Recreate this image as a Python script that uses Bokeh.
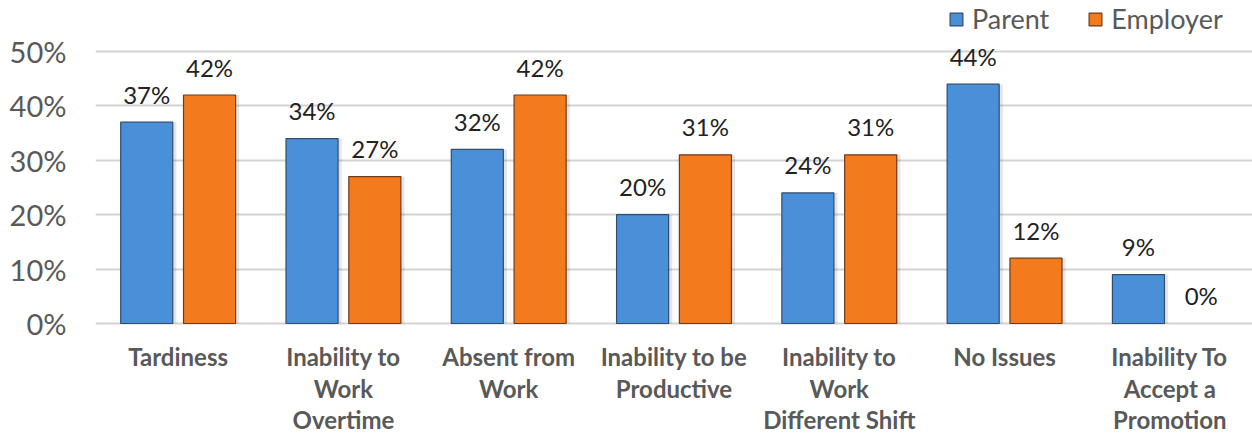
from bokeh.plotting import figure
from bokeh.models import (ColumnDataSource, FactorRange, Legend, LegendItem,
                          FixedTicker, PrintfTickFormatter)
from bokeh.transform import dodge
from bokeh.embed import file_html
from bokeh.resources import INLINE
from bokeh.core.properties import value

# Workplace impacts of child-care problems, as reported by parents and employers
categories = [
    "Tardiness",
    "Inability to\nWork\nOvertime",
    "Absent from\nWork",
    "Inability to be\nProductive",
    "Inability to\nWork\nDifferent Shift",
    "No Issues",
    "Inability To\nAccept a\nPromotion",
]
parent = [37, 34, 32, 20, 24, 44, 9]
employer = [42, 27, 42, 31, 31, 12, 0]
y_ticks = [0, 10, 20, 30, 40, 50]

FONT = "Lato"
BLUE, BLUE_EDGE = "#4A90D9", "#2F4D6E"
ORANGE, ORANGE_EDGE = "#F47A1E", "#6E3A18"
GREY_TEXT = "#595959"

src = ColumnDataSource(dict(
    cat=categories,
    zero=[0] * len(categories),
    parent=parent,
    employer=employer,
    parent_lbl=[f"{v}%" for v in parent],
    employer_lbl=[f"{v}%" for v in employer],
    # empty bars get no outline
    parent_edge=[1.0 if v > 0 else 0.0 for v in parent],
    employer_edge=[1.0 if v > 0 else 0.0 for v in employer],
))

# The frame spans the full canvas height so that the value labels, the
# category labels and the legend can all be drawn without clipping; the
# value axis itself only runs from 0% to 50%.
p = figure(
    x_range=FactorRange(*categories, range_padding=0, factor_padding=0),
    y_range=(-20.59, 59.375),
    width=1252, height=435,
    min_border_left=95, min_border_right=0,
    min_border_top=0, min_border_bottom=0,
    output_backend="svg", toolbar_location=None,
    background_fill_color="white", border_fill_color="white",
    outline_line_color=None,
)

BW = 0.315
OFF = 0.19

# soft shadow to the right of each bar
for off, col in ((-OFF, "parent"), (OFF, "employer")):
    p.vbar(x=dodge("cat", off + 0.022, range=p.x_range), top=col, width=BW,
           source=src, fill_color="black", fill_alpha=0.10, line_color=None)

r_par = p.vbar(x=dodge("cat", -OFF, range=p.x_range), top="parent", width=BW,
               source=src, fill_color=BLUE, line_color=BLUE_EDGE,
               line_alpha="parent_edge", line_width=1.2)
r_emp = p.vbar(x=dodge("cat", OFF, range=p.x_range), top="employer", width=BW,
               source=src, fill_color=ORANGE, line_color=ORANGE_EDGE,
               line_alpha="employer_edge", line_width=1.2)

# value labels above the bars
for off, col in ((-OFF, "parent"), (OFF, "employer")):
    p.text(x=dodge("cat", off, range=p.x_range),
           y=col, text=col + "_lbl", source=src,
           text_align="center", text_baseline="alphabetic", y_offset=-28,
           text_font=value(FONT), text_font_size="24px", text_color="#222222")

# category labels under the baseline
p.text(x="cat", y="zero", text="cat", source=src,
       text_align="center", text_baseline="top", y_offset=19,
       text_font=value(FONT), text_font_style="bold", text_font_size="24px",
       text_color=GREY_TEXT, text_line_height=1.08)

# grid and axes
p.xaxis.visible = False
p.xgrid.grid_line_color = None
p.ygrid.ticker = FixedTicker(ticks=y_ticks)
p.ygrid.grid_line_color = "#D3D3D3"
p.ygrid.grid_line_width = 2
p.yaxis.ticker = FixedTicker(ticks=y_ticks)
p.yaxis.formatter = PrintfTickFormatter(format="%d%%")
p.yaxis.axis_line_color = None
p.yaxis.major_tick_line_color = None
p.yaxis.minor_tick_line_color = None
p.yaxis.major_label_text_font = FONT
p.yaxis.major_label_text_font_size = "29px"
p.yaxis.major_label_text_color = GREY_TEXT
p.yaxis.major_label_standoff = 23

legend = Legend(
    items=[LegendItem(label="Parent", renderers=[r_par]),
           LegendItem(label="Employer", renderers=[r_emp])],
    orientation="horizontal", location=(853, 400),
    glyph_width=16, glyph_height=16, label_height=16,
    label_standoff=8, spacing=38, padding=0, margin=0,
    border_line_color=None, background_fill_alpha=0,
    label_text_font=FONT, label_text_font_size="27px",
    label_text_color=GREY_TEXT,
)
p.add_layout(legend, "center")

open("out.html", "w").write(file_html(p, INLINE))
